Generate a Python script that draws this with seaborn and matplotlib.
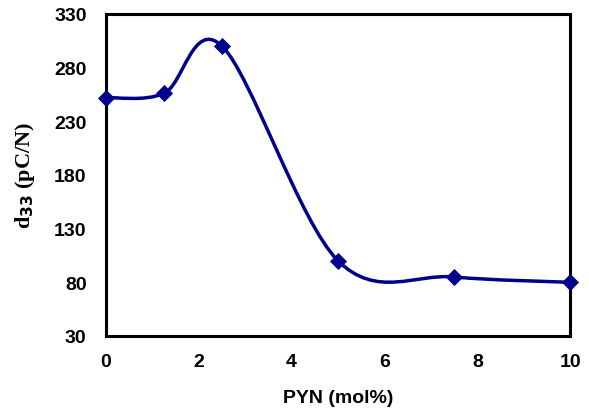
import numpy as np
import pandas as pd
import matplotlib
matplotlib.use("Agg")
import matplotlib.pyplot as plt
from matplotlib.path import Path
from matplotlib.patches import PathPatch
import seaborn as sns

# Data

pyn = [0, 1.25, 2.5, 5, 7.5, 10]
d33 = [252, 256, 300, 100, 85, 80]
x_ticks = [0, 2, 4, 6, 8, 10]
y_ticks = [30, 80, 130, 180, 230, 280, 330]

df = pd.DataFrame({"PYN": pyn, "d33": d33})

sns.set_style("white")
color = "#00008c"

fig = plt.figure(figsize=(5.89, 4.14), dpi=100)
ax = fig.add_axes([0.18, 0.186, 0.788, 0.778])

# Smooth line like a spreadsheet "smoothed line" (Bezier through the points)

pts = np.column_stack([pyn, d33]).astype(float)
n = len(pts)
verts = [pts[0]]
codes = [Path.MOVETO]
for i in range(n - 1):
    p_prev = pts[max(i - 1, 0)]
    p0 = pts[i]
    p1 = pts[i + 1]
    p_next = pts[min(i + 2, n - 1)]
    c1 = p0 + (p1 - p_prev) / 6
    c2 = p1 - (p_next - p0) / 6
    verts += [c1, c2, p1]
    codes += [Path.CURVE4] * 3
ax.add_patch(PathPatch(Path(verts, codes), facecolor="none", edgecolor=color, lw=2.5, zorder=2))

sns.scatterplot(data=df, x="PYN", y="d33", marker="D", s=65, color=color,
                edgecolor=color, zorder=3, ax=ax, clip_on=False)

ax.set_xlim(0, 10)
ax.set_ylim(30, 330)
ax.set_xticks(x_ticks)
ax.set_yticks(y_ticks)
ax.set_xticklabels([str(t) for t in x_ticks], fontsize=14, fontweight="bold", family="Liberation Sans")
ax.set_yticklabels([str(t) for t in y_ticks], fontsize=14, fontweight="bold", family="Liberation Sans")
ax.tick_params(axis="x", direction="in", length=6, width=2, pad=12, colors="black")
ax.tick_params(axis="y", direction="out", length=4, width=1, color="#dddddd", labelcolor="black", pad=10)

for sp in ax.spines.values():
    sp.set_color("black")
    sp.set_linewidth(2.2)

ax.set_xlabel("PYN (mol%)", fontsize=14, fontweight="bold", family="Liberation Sans",
              labelpad=14, color="black")
ax.set_ylabel("d$_{\\mathbf{33}}$ (pC/N)", fontsize=16, fontweight="bold", family="Liberation Serif",
              labelpad=12, color="black")

fig.savefig("out.png", dpi=100)
